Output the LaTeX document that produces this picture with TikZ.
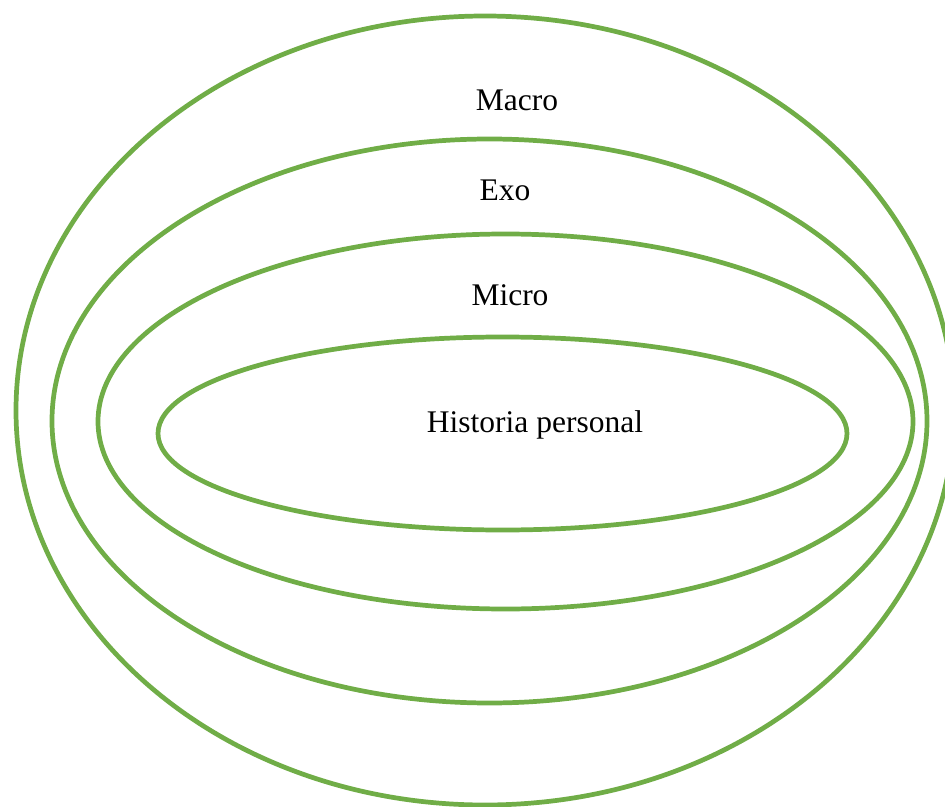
\documentclass[tikz,border=0pt]{standalone}
\usepackage{fontspec}
\setmainfont{Liberation Serif}
\usepackage{tikz}
\usetikzlibrary{positioning}
\usepackage{xcolor}
\definecolor{lgreen}{HTML}{70AD47}

\begin{document}
\begin{tikzpicture}[x=0.381pt, y=0.381pt, font=\fontsize{12}{14}\selectfont,
    ring/.style={line width=1.8pt, draw=lgreen},
    lbl/.style={anchor=base, inner sep=0pt}]
\useasboundingbox (0,0) rectangle (945,806);
% ---- nested ellipses ----------------------------------------------
\draw[ring] (485,395.5) ellipse [x radius=469, y radius=394.5];
\draw[ring] (489.5,385) ellipse [x radius=437.5, y radius=282];
\draw[ring] (505.5,384.5) ellipse [x radius=407.5, y radius=187.5];
\draw[ring] (502.5,372.5) ellipse [x radius=344.5, y radius=96.5];
% ---- labels -------------------------------------------------------
\node[lbl] (macro) at (517,695) {Macro};
\node[lbl] (exo) at (505,606) {Exo};
\node[lbl] (micro) at (510,501) {Micro};
\node[lbl] (hist) at (535,374) {Historia personal};
\end{tikzpicture}
\end{document}
